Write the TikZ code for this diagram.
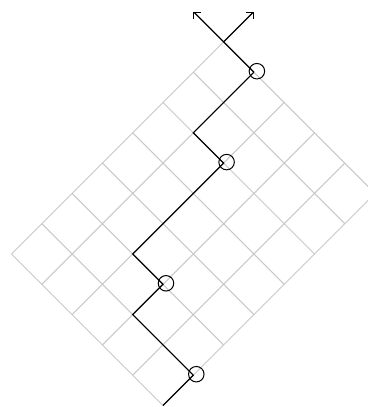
\documentclass[tikz,border=0pt]{standalone}
\usetikzlibrary{arrows.meta}
\definecolor{gridgrey}{HTML}{C8C8C8}

\begin{document}
\begin{tikzpicture}[
  gridline/.style={draw=gridgrey, line width=1pt},
  walk/.style={draw=black, line width=1.2pt, line join=miter},
  peak/.style={circle, draw=black, line width=1pt, minimum size=15.5pt, inner sep=0pt, shift={(3pt,1pt)}},
  arrow/.style={-{Straight Barb[length=5pt,width=10pt]}, line width=1.2pt}
]

\useasboundingbox (-163pt,-1.5pt) rectangle (204pt,405.5pt);

\begin{scope}[x=42.85pt, y=42.85pt, rotate=45]
\draw[gridline, step=1] (0,0) grid (7,5);

\coordinate (p0) at (0,0);
\coordinate (p1) at (1,0);
\coordinate (p2) at (1,2);
\coordinate (p3) at (2,2);
\coordinate (p4) at (2,3);
\coordinate (p5) at (5,3);
\coordinate (p6) at (5,4);
\coordinate (p7) at (7,4);
\coordinate (top) at (7,5);
\coordinate (tipleft) at (7,6);
\coordinate (tipright) at (8,5);

\node[peak] (c1) at (p1) {};
\node[peak] (c2) at (p3) {};
\node[peak] (c3) at (p5) {};
\node[peak] (c4) at (p7) {};

\draw[walk] (p0) -- (p1) -- (p2) -- (p3) -- (p4) -- (p5) -- (p6) -- (p7);
\draw[arrow] (p7) -- (tipleft);
\draw[arrow] (top) -- (tipright);
\end{scope}

\end{tikzpicture}
\end{document}
